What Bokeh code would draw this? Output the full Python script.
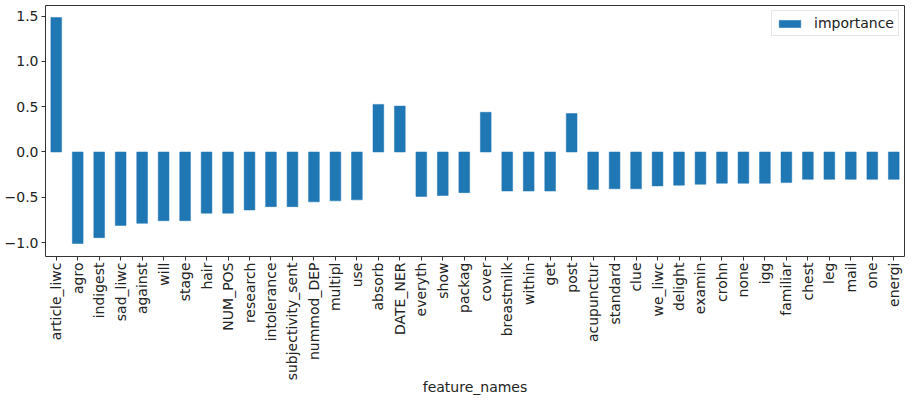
import math
from bokeh.plotting import figure
from bokeh.models import ColumnDataSource, FactorRange, Range1d, FixedTicker, Legend, LegendItem
from bokeh.embed import file_html
from bokeh.resources import INLINE

feature_names = ["article_liwc", "agro", "indigest", "sad_liwc", "against", "will", "stage", "hair",
                 "NUM_POS", "research", "intolerance", "subjectivity_sent", "nummod_DEP", "multipl",
                 "use", "absorb", "DATE_NER", "everyth", "show", "packag", "cover", "breastmilk",
                 "within", "get", "post", "acupunctur", "standard", "clue", "we_liwc", "delight",
                 "examin", "crohn", "none", "igg", "familiar", "chest", "leg", "mail", "one", "energi"]
importance = [1.484, -1.01, -0.945, -0.81, -0.787, -0.758, -0.758, -0.675,
              -0.675, -0.64, -0.603, -0.603, -0.55, -0.539,
              -0.528, 0.525, 0.506, -0.49, -0.48, -0.449, 0.438, -0.431,
              -0.431, -0.431, 0.424, -0.413, -0.406, -0.406, -0.374, -0.366,
              -0.356, -0.345, -0.345, -0.345, -0.338, -0.302, -0.302, -0.302, -0.302, -0.302]
y_ticks = [-1.0, -0.5, 0.0, 0.5, 1.0, 1.5]
y_tick_labels = ["\u22121.0", "\u22120.5", "0.0", "0.5", "1.0", "1.5"]

src = ColumnDataSource(dict(x=feature_names, top=importance))

p = figure(width=906, height=398, output_backend="svg", toolbar_location=None,
           x_range=FactorRange(factors=feature_names, range_padding=0),
           y_range=Range1d(-1.153, 1.616),
           min_border_left=45, min_border_right=2, min_border_top=5, min_border_bottom=0)

r = p.vbar(x="x", top="top", bottom=0, width=0.5, source=src,
           fill_color="#1f77b4", line_color="#1f77b4", line_width=0.5)

font = "DejaVu Sans"
txt = "#222222"
p.xgrid.visible = False
p.ygrid.visible = False
p.outline_line_color = "#333333"
p.outline_line_width = 1

for ax in (p.xaxis[0], p.yaxis[0]):
    ax.axis_line_color = None
    ax.major_tick_out = 4
    ax.major_tick_in = 0
    ax.minor_tick_out = 0
    ax.minor_tick_in = 0
    ax.major_tick_line_color = "#333333"
    ax.major_label_text_font = font
    ax.major_label_text_font_size = "14px"
    ax.major_label_text_color = txt
    ax.major_label_standoff = 3

p.xaxis.major_label_standoff = 2
p.yaxis.ticker = FixedTicker(ticks=y_ticks)
p.yaxis.major_label_overrides = {t: l for t, l in zip(y_ticks, y_tick_labels)}
p.xaxis.major_label_orientation = math.pi / 2
p.xaxis.axis_label = "feature_names"
p.xaxis.axis_label_text_font = font
p.xaxis.axis_label_text_font_size = "14px"
p.xaxis.axis_label_text_font_style = "normal"
p.xaxis.axis_label_text_color = txt
p.xaxis.axis_label_standoff = -4

legend = Legend(items=[LegendItem(label="importance", renderers=[r])],
                location="top_right", margin=5, padding=4, spacing=0,
                glyph_width=27, glyph_height=9, label_height=16, label_standoff=11,
                label_text_font=font, label_text_font_size="14px", label_text_color=txt,
                border_line_color="#cccccc", border_line_width=1,
                background_fill_alpha=0.8)
p.add_layout(legend)

open("out.html", "w").write(file_html(p, INLINE))
